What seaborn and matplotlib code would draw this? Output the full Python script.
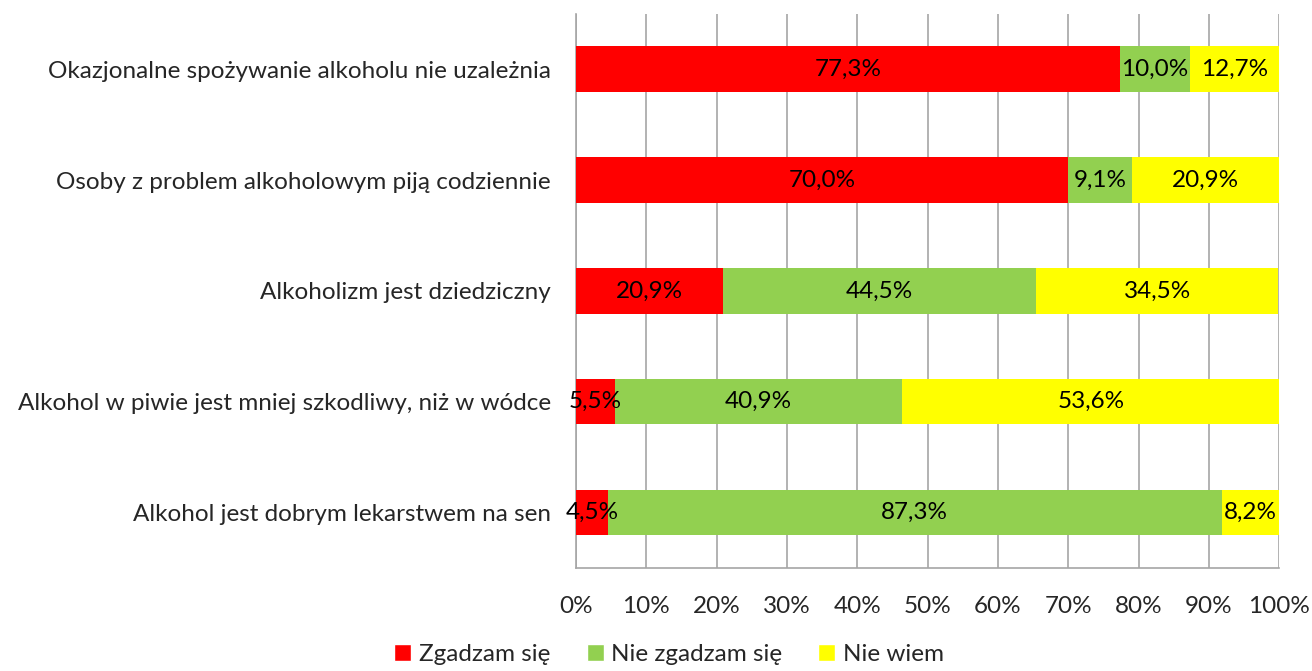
import pandas as pd
import matplotlib.pyplot as plt
import seaborn as sns
from matplotlib.patches import Patch
from matplotlib.ticker import MultipleLocator, FuncFormatter

# --- Data ---
statements = [
    "Okazjonalne spożywanie alkoholu nie uzależnia",
    "Osoby z problem alkoholowym piją codziennie",
    "Alkoholizm jest dziedziczny",
    "Alkohol w piwie jest mniej szkodliwy, niż w wódce",
    "Alkohol jest dobrym lekarstwem na sen",
]
agree = [77.3, 70.0, 20.9, 5.5, 4.5]
disagree = [10.0, 9.1, 44.5, 40.9, 87.3]
dont_know = [12.7, 20.9, 34.5, 53.6, 8.2]

series_names = ["Zgadzam się", "Nie zgadzam się", "Nie wiem"]
colors = ["#FF0000", "#92D050", "#FFFF00"]

df = pd.DataFrame({"Statement": statements, "agree": agree,
                   "disagree": disagree, "dont_know": dont_know})
df["cum1"] = df["agree"]
df["cum2"] = df["agree"] + df["disagree"]
df["cum3"] = df["cum2"] + df["dont_know"]

sns.set_style("white")
plt.rcParams["font.family"] = ["Lato", "DejaVu Sans"]
FS = 17.5

fig = plt.figure(figsize=(13.12, 6.71), dpi=100)
ax = fig.add_axes([0.439, 0.1535, 0.536, 0.826])

# stacked bars: draw cumulative totals from back to front
for col, c in zip(["cum3", "cum2", "cum1"], colors[::-1]):
    sns.barplot(data=df, x=col, y="Statement", color=c, width=0.41,
                orient="h", ax=ax, saturation=1, linewidth=0, zorder=3)

# segment labels
for i in range(len(df)):
    starts = [0, df["cum1"][i], df["cum2"][i]]
    for s, v in zip(starts, [agree[i], disagree[i], dont_know[i]]):
        ax.text(s + v / 2, i, f"{v:.1f}%".replace(".", ","),
                ha="center", va="center", fontsize=FS, color="black", zorder=4)

ax.set_xlim(0, 100)
ax.set_ylim(len(df) - 0.5, -0.5)
ax.xaxis.set_major_locator(MultipleLocator(10))
ax.xaxis.set_major_formatter(FuncFormatter(lambda v, p: f"{v:.0f}%"))
ax.grid(axis="x", color="#A6A6A6", linewidth=1.2, zorder=0)
ax.set_axisbelow(True)
ax.set_xlabel("")
ax.set_ylabel("")
ax.tick_params(axis="x", labelsize=FS, pad=20, length=0)
ax.tick_params(axis="y", labelsize=FS, pad=18, length=0)
for side in ["top", "right"]:
    ax.spines[side].set_visible(False)
for side in ["left", "bottom"]:
    ax.spines[side].set_color("#A6A6A6")
    ax.spines[side].set_linewidth(1.2)

handles = [Patch(facecolor=c, label=n) for c, n in zip(colors, series_names)]
fig.legend(handles=handles, loc="center", bbox_to_anchor=(0.51, 0.024),
           ncol=3, frameon=False, fontsize=FS, handlelength=0.7,
           handleheight=0.7, handletextpad=0.3, columnspacing=1.5)

fig.savefig("out.png", dpi=100)
